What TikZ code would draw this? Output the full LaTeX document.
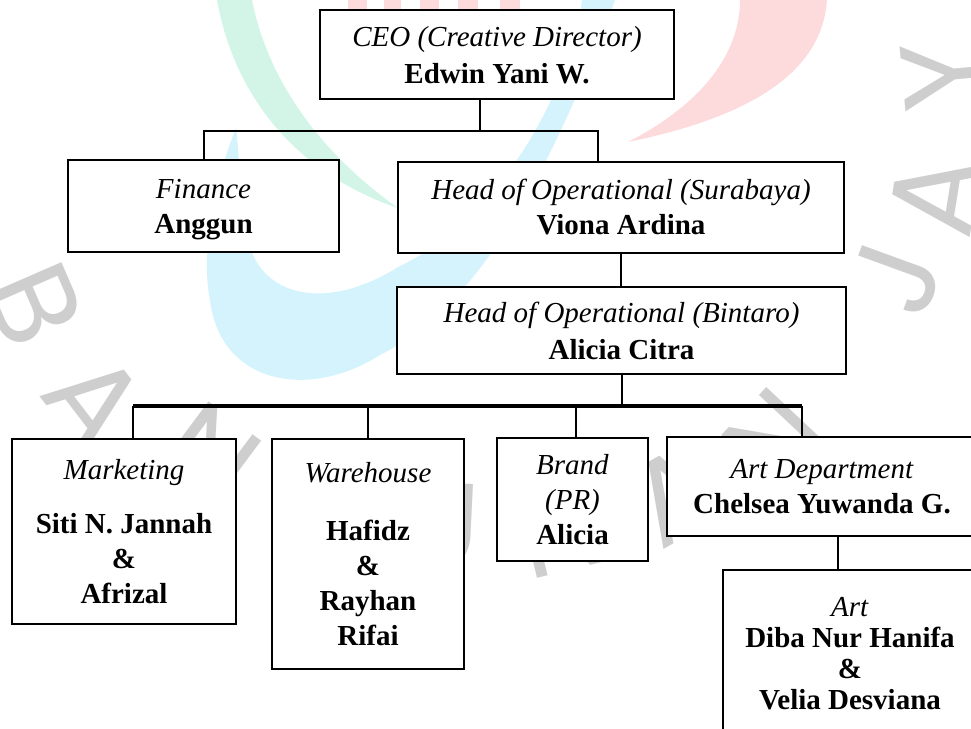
\documentclass[tikz,border=0pt]{standalone}
\usepackage{fontspec}
\setmainfont{Liberation Serif}
\newfontfamily\wmfont{Poppins}
\usepackage{tikz}

\definecolor{wmgray}{RGB}{206,206,206}
\definecolor{wmmint}{RGB}{211,245,231}
\definecolor{wmcyan}{RGB}{213,243,252}
\definecolor{wmpink}{RGB}{253,218,219}

\begin{document}
\begin{tikzpicture}[x=1pt,y=-1pt]
            \tikzstyle{box}=[draw=black,line width=2.2pt,fill=white,align=center,inner sep=0pt,font=\fontsize{29}{35}\selectfont]
            \tikzstyle{wide}=[font=\fontsize{29}{37}\selectfont]
            \tikzstyle{edge}=[draw=black,line width=2pt]
            \tikzstyle{bar}=[draw=black,line width=4pt]
            \tikzstyle{wmletter}=[text=wmgray,inner sep=0pt,font=\wmfont\fontsize{120}{120}\selectfont]

            \useasboundingbox (0,0) rectangle (971,728);

            % faint logo behind the chart
            \foreach \a/\b in {348/367,384/401,420/439,458/478,500/520}
                \fill[wmpink] (\a,0) rectangle (\b,12);
            \fill[wmpink] (740,0) .. controls (740,55) and (700,105) .. (628,142)
                .. controls (745,118) and (822,75) .. (827,0) -- cycle;
            \fill[wmmint] (217,0) .. controls (235,100) and (300,175) .. (398,208)
                .. controls (330,160) and (270,90) .. (252,0) -- cycle;
            \fill[wmcyan] (582,0) .. controls (570,90) and (500,220) .. (398,267)
                .. controls (330,310) and (262,300) .. (248,240)
                .. controls (240,200) and (240,160) .. (236,128)
                .. controls (215,180) and (200,250) .. (210,300)
                .. controls (220,385) and (310,400) .. (380,355)
                .. controls (470,310) and (540,200) .. (615,0) -- cycle;
            \foreach \ch/\px/\py/\rot [count=\i] in {B/35/305/-66.5,A/95/400/-52.5,N/210/455/-36.7,
                G/320/500/-20.2,U/440/525/-2.8,N/560/530/13.7,A/675/495/29.8,N/775/440/46.8,
                J/895/278/70,A/935/195/81,Y/945/75/95.3}
                \node[wmletter,rotate=\rot] (wm\i) at (\px,\py) {\ch};

            \node[box,wide,text depth=-5pt,minimum width=354,minimum height=89] (ceo) at (497,54.5)
                {\textit{CEO (Creative Director)}\\\textbf{Edwin Yani W.}};
            \node[box,text depth=-3pt,minimum width=271,minimum height=92] (finance) at (203.5,206)
                {\textit{Finance}\\\textbf{Anggun}};
            \node[box,minimum width=446,minimum height=91] (surabaya) at (621,207.5)
                {\textit{Head of Operational (Surabaya)}\\\textbf{Viona Ardina}};
            \node[box,wide,text depth=-6pt,minimum width=449,minimum height=87] (bintaro) at (621.5,330.5)
                {\textit{Head of Operational (Bintaro)}\\\textbf{Alicia Citra}};
            \node[box,minimum width=224,minimum height=185] (marketing) at (124,531.5)
                {\textit{Marketing}\\[19pt]\textbf{Siti N. Jannah}\\\textbf{\&}\\\textbf{Afrizal}};
            \node[box,minimum width=192,minimum height=230] (warehouse) at (368,554)
                {\textit{Warehouse}\\[23pt]\textbf{Hafidz}\\\textbf{\&}\\\textbf{Rayhan}\\\textbf{Rifai}};
            \node[box,text depth=-6pt,minimum width=151,minimum height=123] (brand) at (572.5,499.5)
                {\textit{Brand}\\\textit{(PR)}\\\textbf{Alicia}};
            \node[box,minimum width=310,minimum height=99] (artdept) at (822,486.5)
                {\textit{Art Department}\\\textbf{Chelsea Yuwanda G.}};
            \node[box,minimum width=254,minimum height=168,font=\fontsize{29}{31}\selectfont] (art) at (850,654)
                {\textit{Art}\\\textbf{Diba Nur Hanifa}\\\textbf{\&}\\\textbf{Velia Desviana}};

            \coordinate (ceotap) at (480,131);
            \coordinate (sbytap) at (598,131);
            \coordinate (mktap) at (133,406);
            \coordinate (brtap) at (576,406);
            \coordinate (adtap) at (802,406);
            \coordinate (arttap) at (838,553);

            \path[edge] (ceo.south -| ceotap) -- (ceotap);
            \path[edge] (finance.north) |- (sbytap) -- (sbytap |- surabaya.north);
            \path[edge] (surabaya.south) -- (surabaya.south |- bintaro.north);
            \path[edge] (bintaro.south) -- (bintaro.south |- mktap);
            \path[bar] (mktap) -- (adtap);
            \path[edge] (mktap) -- (mktap |- marketing.north);
            \path[edge] (warehouse.north |- mktap) -- (warehouse.north);
            \path[edge] (brtap) -- (brtap |- brand.north);
            \path[edge] (adtap) -- (adtap |- artdept.north);
            \path[edge] (artdept.south -| arttap) -- (arttap |- art.north);
\end{tikzpicture}
\end{document}
